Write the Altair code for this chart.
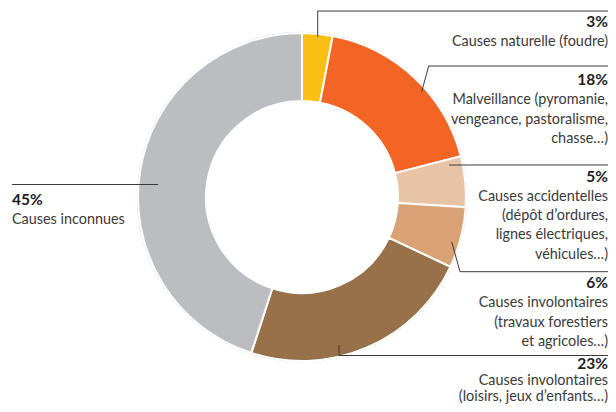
import math
import altair as alt
import pandas as pd

# ---------------- data ----------------
categories = [
    "Causes naturelle",
    "Malveillance",
    "Causes accidentelles",
    "Causes involontaires (travaux)",
    "Causes involontaires (loisirs)",
    "Causes inconnues",
]
shares = [3, 18, 5, 6, 23, 45]
pct_labels = ["3%", "18%", "5%", "6%", "23%", "45%"]
desc_lines = [
    ["Causes naturelle (foudre)"],
    ["Malveillance (pyromanie,", "vengeance, pastoralisme,", "chasse…)"],
    ["Causes accidentelles", "(dépôt d’ordures,", "lignes électriques,", "véhicules…)"],
    ["Causes involontaires", "(travaux forestiers", "et agricoles…)"],
    ["Causes involontaires", "(loisirs, jeux d’enfants…)"],
    ["Causes inconnues"],
]
colors = ["#FCC015", "#F26524", "#E7C4A5", "#D9A274", "#977149", "#BCBDC0"]

# ---------------- layout (chart pixel coords) ----------------
W, H = 600, 396
CX, CY = 294, 189
R_OUT, R_IN = 164, 96
label_side = ["right", "right", "right", "right", "right", "left"]
pct_baseline = [19, 77, 173.5, 280, 361, 197]
line_gap = [19.3, 19.3, 19.3, 19.3, 16, 19.3]
x_right, x_left = 600, 4
# leader polylines (chart coords)
leaders = [
    [(309.7, 29), (309.7, 3), (600, 3)],
    [(413.7, 83.7), (420.7, 58), (600, 58)],
    [(441, 157), (600, 157)],
    [(443.7, 233.7), (452, 263.7), (600, 263.7)],
    [(331, 337), (331, 347.5), (600, 347.5)],
    [(4, 176.5), (150, 176.5)],
]

slices = pd.DataFrame({
    "category": categories,
    "share": shares,
    "order": list(range(len(categories))),
})

rows = []
for i, (p, lines) in enumerate(zip(pct_labels, desc_lines)):
    x = x_right if label_side[i] == "right" else x_left
    rows.append({"x": x, "y": pct_baseline[i], "text": p, "kind": "pct", "side": label_side[i]})
    for j, t in enumerate(lines):
        rows.append({"x": x, "y": pct_baseline[i] + line_gap[i] * (j + 1), "text": t,
                     "kind": "desc", "side": label_side[i]})
texts = pd.DataFrame(rows)

segs = []
for pts in leaders:
    for a, b in zip(pts[:-1], pts[1:]):
        segs.append({"x": a[0], "y": a[1], "x2": b[0], "y2": b[1]})
segs = pd.DataFrame(segs)

ring = alt.Chart(pd.DataFrame({"a": [0]})).mark_arc(
    outerRadius=R_OUT + 1.2, innerRadius=R_OUT - 1, theta=0, theta2=2 * math.pi,
    color="#D6D6D6"
).encode(x=alt.value(CX), y=alt.value(CY))

arcs = alt.Chart(slices).mark_arc(
    outerRadius=R_OUT, innerRadius=R_IN, stroke="white", strokeWidth=2
).encode(
    theta=alt.Theta("share:Q", stack=True),
    color=alt.Color("category:N", scale=alt.Scale(domain=categories, range=colors), legend=None),
    order=alt.Order("order:Q"),
    x=alt.value(CX),
    y=alt.value(CY),
)

rules = alt.Chart(segs).mark_rule(color="#3A3A3A", strokeWidth=1).encode(
    x=alt.X("x:Q", scale=None), y=alt.Y("y:Q", scale=None),
    x2="x2:Q", y2="y2:Q",
)

def text_layer(kind, side):
    base = alt.Chart(texts).transform_filter(
        (alt.datum.kind == kind) & (alt.datum.side == side)
    )
    if kind == "pct":
        m = base.mark_text(font="Lato", fontSize=15.5, fontWeight="bold", color="#1E1E1E",
                           align=side, baseline="alphabetic")
    else:
        m = base.mark_text(font="Lato", fontSize=14.4, color="#3A3A3A",
                           align=side, baseline="alphabetic")
    return m.encode(x=alt.X("x:Q", scale=None), y=alt.Y("y:Q", scale=None), text="text:N")

chart = alt.layer(
    ring, arcs, rules,
    text_layer("pct", "right"), text_layer("desc", "right"),
    text_layer("pct", "left"), text_layer("desc", "left"),
).properties(
    width=W, height=H, padding=0, autosize=alt.AutoSizeParams(type="none")
).configure_view(stroke=None)

chart.save("out.html", embed_options={"renderer": "svg", "actions": False})
